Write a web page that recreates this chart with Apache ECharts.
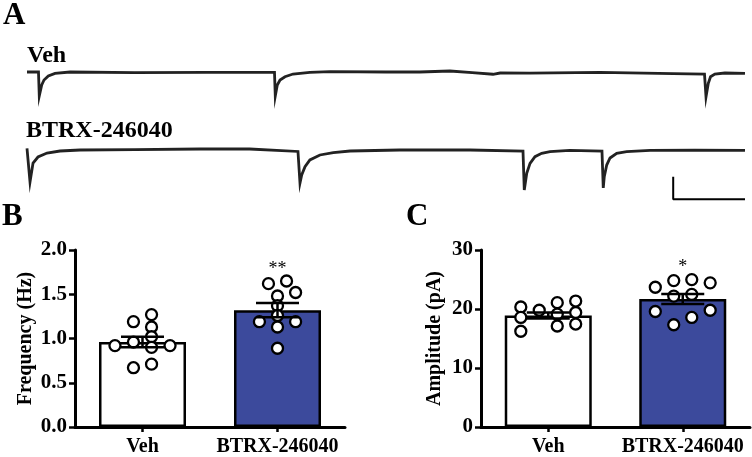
<!DOCTYPE html>
<html>
<head>
<meta charset="utf-8">
<script src="https://cdn.jsdelivr.net/npm/echarts@6/dist/echarts.min.js"></script>
<style>
html,body{margin:0;padding:0;background:#fff;}
#chart{width:752px;height:457px;}
</style>
</head>
<body>
<div id="chart"></div>
<script>
// ---------- Data ----------
// Panel A traces: time (s) and current (pA, relative to baseline)
var vehTraceT = [0, 0.16, 0.171, 0.205, 0.237, 0.297, 0.39, 0.6, 1.5, 2.5, 3.447, 3.458, 3.486, 3.524, 3.593, 3.705, 3.94, 4.22, 5.0, 5.47, 5.89, 6.2, 6.49, 6.59, 7.0, 7.98, 9.0, 9.436, 9.457, 9.489, 9.52, 9.58, 9.72, 10];
var vehTraceI = [0, 0, -21.2, -11.5, -7.1, -3.5, -1.2, 0, -0.5, -0.3, -0.4, -21.2, -11.5, -7.1, -4.2, -1.8, -0.4, 0.4, 0, 0, 0.9, -0.5, -2.0, -0.9, -1.0, -0.4, -1.5, -1.8, -21.9, -10, -4.2, -1.8, -0.9, -1.3];
var btrxTraceT = [0, 0.007, 0.042, 0.084, 0.153, 0.279, 0.46, 0.74, 1.5, 2.41, 3.1, 3.774, 3.802, 3.826, 3.872, 3.94, 4.08, 4.266, 4.5, 5.19, 6.17, 6.908, 6.926, 6.96, 7.006, 7.075, 7.168, 7.284, 7.56, 8.008, 8.026, 8.04, 8.074, 8.12, 8.213, 8.352, 8.68, 9.3, 10];
var btrxTraceI = [1.5, 0, -28.3, -11.5, -6.2, -2.7, -0.9, 0, 0.3, 0.9, 0.9, -1.3, -29.2, -22, -14.8, -8.8, -4.4, -2.4, -0.9, 0, 0, -0.9, -35.4, -20.6, -11.8, -5.9, -2.9, -1.5, -0.4, -0.9, -33.6, -23.6, -13.3, -7.1, -2.9, -1.5, -0.4, -0.2, -0.4];
// Scale bar: 1 s, 20 pA
var scaleBarT = [9, 9, 10];
var scaleBarI = [-23.6, -43.6, -43.6];

// Panels B & C
var categories = ['Veh', 'BTRX-246040'];
var freqMean = [0.96, 1.32];
var freqSem = [0.06, 0.08];
var ampMean = [18.9, 21.7];
var ampSem = [0.5, 0.85];

var vehFreq = [1.27, 1.19, 1.13, 1.02, 0.92, 0.96, 0.90, 0.92, 0.67, 0.71];
var vehFreqJitter = [0.067, -0.067, 0.067, 0.067, -0.204, -0.067, 0.067, 0.204, -0.067, 0.067];
var btrxFreq = [1.62, 1.65, 1.48, 1.52, 1.37, 1.26, 1.19, 1.19, 1.13, 0.89];
var btrxFreqJitter = [-0.067, 0.067, 0, 0.134, 0, 0, -0.134, 0.134, 0, 0];

var vehAmp = [20.34, 18.57, 16.23, 19.79, 21.08, 19.12, 17.12, 21.35, 19.41, 17.45];
var vehAmpJitter = [-0.204, -0.204, -0.204, -0.067, 0.067, 0.067, 0.067, 0.204, 0.204, 0.204];
var btrxAmp = [23.69, 24.81, 24.98, 24.43, 22.19, 22.47, 19.58, 19.79, 18.57, 17.33];
var btrxAmpJitter = [-0.204, -0.067, 0.067, 0.204, -0.067, 0.067, -0.204, 0.204, 0.067, -0.067];

// ---------- Helpers ----------
var FONT = '"Liberation Serif", "Times New Roman", serif';
function zip(a, b) { return a.map(function (v, i) { return [v, b[i]]; }); }
function dots(vals, jit, center) { return vals.map(function (v, i) { return [center + jit[i], v]; }); }
function errData(m, s) { return m.map(function (v, i) { return [i, v, s[i]]; }); }
function errRender(params, api) {
  var x = api.value(0), m = api.value(1), s = api.value(2);
  var top = api.coord([x, m + s]);
  var bot = api.coord([x, m - s]);
  var hw = 21.5;
  var st = { stroke: '#000', lineWidth: 2.5 };
  return {
    type: 'group',
    children: [
      { type: 'line', shape: { x1: top[0], y1: top[1], x2: bot[0], y2: bot[1] }, style: st },
      { type: 'line', shape: { x1: top[0] - hw, y1: top[1], x2: top[0] + hw, y2: top[1] }, style: st },
      { type: 'line', shape: { x1: bot[0] - hw, y1: bot[1], x2: bot[0] + hw, y2: bot[1] }, style: st }
    ]
  };
}
var hiddenVal = function (grid, min, max) {
  return { type: 'value', gridIndex: grid, min: min, max: max, show: false };
};
function catAxis(grid) {
  return {
    type: 'category', gridIndex: grid, data: categories,
    axisLine: { show: true, lineStyle: { color: '#000', width: 3 } },
    axisTick: { show: true, alignWithLabel: true, length: 5, lineStyle: { color: '#000', width: 2.5 } },
    axisLabel: { color: '#000', fontFamily: FONT, fontWeight: 'bold', fontSize: 20, margin: 10,
      interval: 0, hideOverlap: false },
    splitLine: { show: false }
  };
}
function valAxis(grid, max, interval, name, gap, digits) {
  return {
    type: 'value', gridIndex: grid, min: 0, max: max, interval: interval,
    name: name, nameLocation: 'middle', nameGap: gap,
    nameTextStyle: { color: '#000', fontFamily: FONT, fontWeight: 'bold', fontSize: 20 },
    axisLine: { show: true, lineStyle: { color: '#000', width: 3 } },
    axisTick: { show: true, length: 6, lineStyle: { color: '#000', width: 2.5 } },
    axisLabel: { color: '#000', fontFamily: FONT, fontWeight: 'bold', fontSize: 21, margin: 8,
      formatter: function (v) { return v.toFixed(digits); } },
    splitLine: { show: false }
  };
}
var BLUE = '#3c4a9c';
var barStyle = function (fill) {
  return { color: fill, borderColor: '#000', borderWidth: 2.5, opacity: 1 };
};
var dotStyle = { color: '#fff', borderColor: '#000', borderWidth: 2.3, opacity: 1 };

var option = {
  animation: false,
  backgroundColor: '#fff',
  grid: [
    { left: 27, width: 718, top: 49.4, height: 56.5 },
    { left: 27, width: 718, top: 138.7, height: 62.15 },
    { left: 75, width: 270, top: 250, height: 179.3 },
    { left: 481, width: 269, top: 250, height: 179.3 }
  ],
  xAxis: [
    hiddenVal(0, 0, 10),
    hiddenVal(1, 0, 10),
    catAxis(2),
    hiddenVal(2, 0, 2),
    catAxis(3),
    hiddenVal(3, 0, 2)
  ],
  yAxis: [
    hiddenVal(0, -30, 20),
    hiddenVal(1, -45, 10),
    valAxis(2, 2, 0.5, 'Frequency (Hz)', 39, 1),
    valAxis(3, 30, 10, 'Amplitude (pA)', 36, 0)
  ],
  series: [
    { type: 'line', xAxisIndex: 0, yAxisIndex: 0, data: zip(vehTraceT, vehTraceI), symbol: 'none',
      lineStyle: { color: '#222', width: 2.8, join: 'miter' }, clip: false },
    { type: 'line', xAxisIndex: 1, yAxisIndex: 1, data: zip(btrxTraceT, btrxTraceI), symbol: 'none',
      lineStyle: { color: '#222', width: 2.8, join: 'miter' }, clip: false },
    { type: 'line', xAxisIndex: 1, yAxisIndex: 1, data: zip(scaleBarT, scaleBarI), symbol: 'none',
      lineStyle: { color: '#000', width: 2 }, clip: false },

    // Panel B
    { type: 'bar', xAxisIndex: 2, yAxisIndex: 2, barWidth: 87,
      data: [{ value: freqMean[0], itemStyle: barStyle('#fff') }, { value: freqMean[1], itemStyle: barStyle(BLUE) }], z: 2 },
    { type: 'scatter', xAxisIndex: 3, yAxisIndex: 2, data: dots(vehFreq, vehFreqJitter, 0.5),
      symbolSize: 11, itemStyle: dotStyle, z: 3 },
    { type: 'scatter', xAxisIndex: 3, yAxisIndex: 2, data: dots(btrxFreq, btrxFreqJitter, 1.5),
      symbolSize: 11, itemStyle: dotStyle, z: 3 },
    { type: 'custom', xAxisIndex: 2, yAxisIndex: 2, data: errData(freqMean, freqSem),
      renderItem: errRender, z: 4 },

    // Panel C
    { type: 'bar', xAxisIndex: 4, yAxisIndex: 3, barWidth: 87,
      data: [{ value: ampMean[0], itemStyle: barStyle('#fff') }, { value: ampMean[1], itemStyle: barStyle(BLUE) }], z: 2 },
    { type: 'scatter', xAxisIndex: 5, yAxisIndex: 3, data: dots(vehAmp, vehAmpJitter, 0.5),
      symbolSize: 11, itemStyle: dotStyle, z: 3 },
    { type: 'scatter', xAxisIndex: 5, yAxisIndex: 3, data: dots(btrxAmp, btrxAmpJitter, 1.5),
      symbolSize: 11, itemStyle: dotStyle, z: 3 },
    { type: 'custom', xAxisIndex: 4, yAxisIndex: 3, data: errData(ampMean, ampSem),
      renderItem: errRender, z: 4 }
  ],
  graphic: [
    { type: 'text', left: 3, top: 0, style: { text: 'A', font: 'bold 31px ' + FONT, fill: '#000' } },
    { type: 'text', left: 27, top: 44, style: { text: 'Veh', font: 'bold 24px ' + FONT, fill: '#000' } },
    { type: 'text', left: 26, top: 119, style: { text: 'BTRX-246040', font: 'bold 24px ' + FONT, fill: '#000' } },
    { type: 'text', left: 2, top: 201, style: { text: 'B', font: 'bold 31px ' + FONT, fill: '#000' } },
    { type: 'text', left: 406, top: 201, style: { text: 'C', font: 'bold 31px ' + FONT, fill: '#000' } },
    { type: 'text', x: 277.5, y: 269, style: { text: '**', font: '18px ' + FONT, fill: '#000', textAlign: 'center', textVerticalAlign: 'middle' } },
    { type: 'text', x: 682.7, y: 267, style: { text: '*', font: '18px ' + FONT, fill: '#000', textAlign: 'center', textVerticalAlign: 'middle' } }
  ]
};

var chart = echarts.init(document.getElementById('chart'), null, { renderer: 'canvas' });
chart.setOption(option);
</script>
</body>
</html>
